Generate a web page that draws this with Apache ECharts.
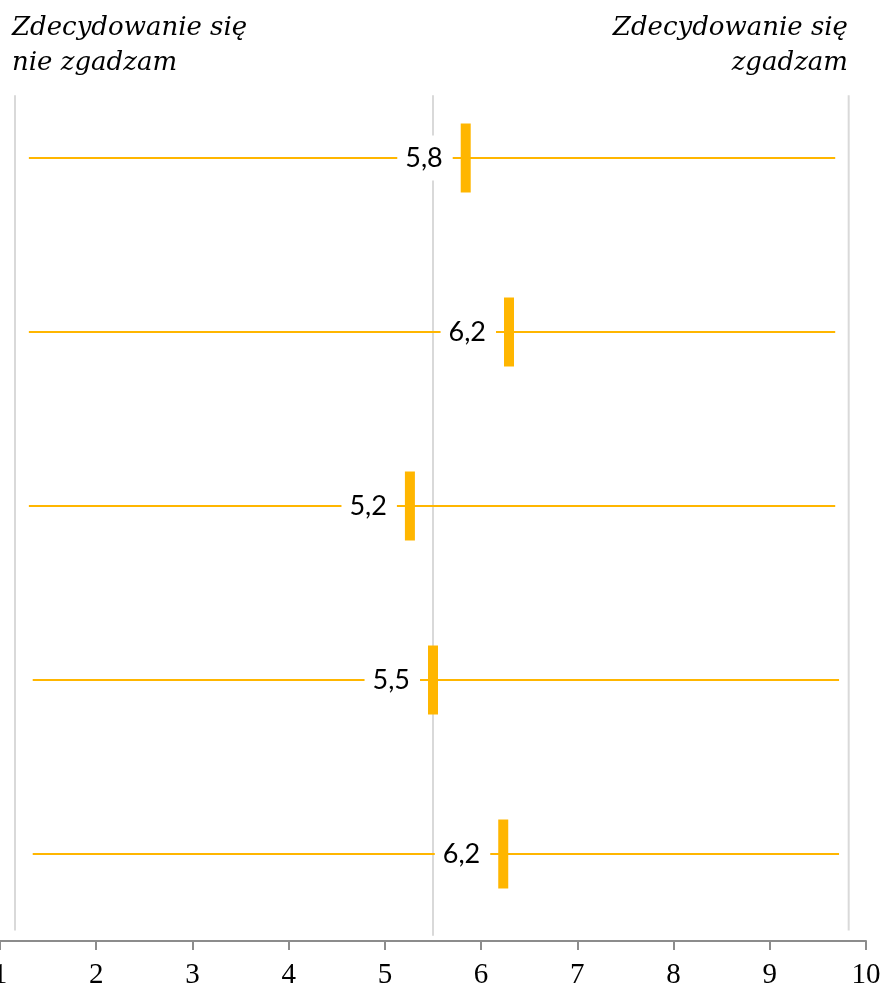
<!DOCTYPE html>
<html><head><meta charset="utf-8">
<script src="https://cdn.jsdelivr.net/npm/echarts@6/dist/echarts.min.js"></script>
<style>html,body{margin:0;padding:0;background:#fff}#c{width:884px;height:989px}</style>
</head><body><div id="c"></div>
<script>
// data
const rows = [1, 2, 3, 4, 5];
const values = [5.84, 6.29, 5.26, 5.50, 6.23];
const valueLabels = ['5,8', '6,2', '5,2', '5,5', '6,2'];
const lineStarts = [1.30, 1.30, 1.30, 1.34, 1.34];
const lineEnds = [9.68, 9.68, 9.68, 9.72, 9.72];
const refLines = [1.156, 5.50, 9.82];
const xTicks = [1, 2, 3, 4, 5, 6, 7, 8, 9, 10];
const leftTitle = ['Zdecydowanie się', 'nie zgadzam'];
const rightTitle = ['Zdecydowanie się', 'zgadzam'];

const YELLOW = '#FFB600';
const GREY = '#d9d9d9';

const series = [];
refLines.forEach(function (x, i) {
  series.push({
    type: 'line', silent: true, symbol: 'none', z: 1,
    lineStyle: { color: GREY, width: 2 },
    data: [[x, 0.64], [x, i === 1 ? 5.47 : 5.44]]
  });
});
rows.forEach(function (r, i) {
  series.push({
    type: 'line', silent: true, symbol: 'none', z: 2,
    lineStyle: { color: YELLOW, width: 2 },
    data: [[lineStarts[i], r], [lineEnds[i], r]]
  });
});
series.push({
  type: 'scatter', z: 5, silent: true,
  symbol: 'rect', symbolSize: [10, 69],
  itemStyle: { color: YELLOW, opacity: 1 },
  label: {
    show: true, position: 'left', distance: 8,
    formatter: function (p) { return valueLabels[p.dataIndex]; },
    fontFamily: 'Lato', fontSize: 27, color: '#000',
    backgroundColor: '#fff', padding: [9, 10, 9, 8]
  },
  data: rows.map(function (r, i) { return [values[i], r]; })
});

const titleFont = 'italic normal 26px "DejaVu Serif"';

const chart = echarts.init(document.getElementById('c'), null, { renderer: 'canvas' });
chart.setOption({
  animation: false,
  backgroundColor: '#fff',
  graphic: [
    { type: 'text', left: 12, top: 11, style: { text: leftTitle.join('\n'), font: titleFont, lineHeight: 35, fill: '#000', textAlign: 'left' } },
    { type: 'text', right: 36, top: 11, style: { text: rightTitle.join('\n'), font: titleFont, lineHeight: 35, fill: '#000', textAlign: 'right' } }
  ],
  grid: { left: 0, right: 18, top: 71, bottom: 48, containLabel: false, outerBoundsMode: 'none' },
  xAxis: {
    type: 'value', min: xTicks[0], max: xTicks[xTicks.length - 1], interval: 1,
    axisLine: { lineStyle: { color: '#8c8c8c', width: 2 } },
    axisTick: { show: true, length: 9, lineStyle: { color: '#8c8c8c', width: 2 } },
    axisLabel: { fontFamily: 'Liberation Serif', fontSize: 29, color: '#000', margin: 20 },
    splitLine: { show: false }
  },
  yAxis: { type: 'value', min: 0.5, max: 5.5, inverse: true, show: false },
  series: series
});
</script></body></html>
